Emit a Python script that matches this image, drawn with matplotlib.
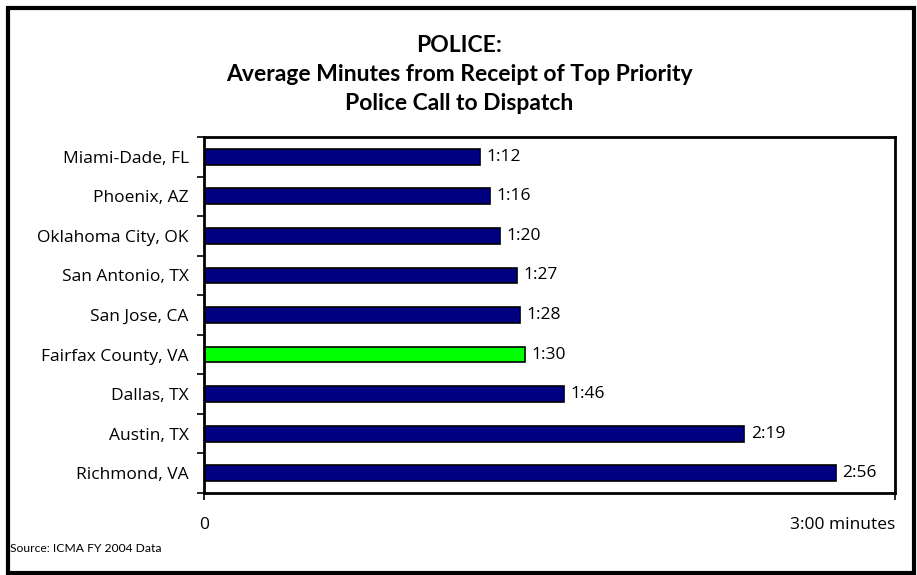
import matplotlib
matplotlib.use("Agg")
import matplotlib.pyplot as plt
from matplotlib.patches import Rectangle
from matplotlib.ticker import FixedLocator

cities = ["Miami-Dade, FL", "Phoenix, AZ", "Oklahoma City, OK", "San Antonio, TX",
          "San Jose, CA", "Fairfax County, VA", "Dallas, TX", "Austin, TX", "Richmond, VA"]
values = [1.12, 1.16, 1.20, 1.27, 1.28, 1.30, 1.46, 2.19, 2.56]
value_labels = ["1:12", "1:16", "1:20", "1:27", "1:28", "1:30", "1:46", "2:19", "2:56"]
colors = ["#000080"] * 5 + ["#00FF00"] + ["#000080"] * 3
x_tick_labels = ["0", "3:00 minutes"]
x_max = 2.8

W, H = 917, 575
fig = plt.figure(figsize=(W / 100, H / 100), dpi=100)
label_font = ["Open Sans", "DejaVu Sans"]
title_font = ["Lato", "DejaVu Sans"]

# figure border
fig.patches.append(Rectangle((8 / W, 2 / H), 906 / W, 565 / H, transform=fig.transFigure,
                             fill=False, edgecolor="black", linewidth=3))

ax = fig.add_axes([204 / W, 1 - 493 / H, (895 - 204) / W, (493 - 137) / H])
n = len(cities)
ypos = list(range(n))
ax.barh(ypos, values, height=0.4, color=colors, edgecolor="black", linewidth=1.2)
ax.set_ylim(n - 0.5, -0.5)
ax.set_xlim(0, x_max)

for y, v, lab in zip(ypos, values, value_labels):
    ax.text(v + 0.025, y, lab, va="center", ha="left", fontsize=12.5, family=label_font)

ax.set_yticks(ypos)
ax.set_yticklabels(cities, fontsize=12.5, family=label_font)
ax.tick_params(axis="y", which="major", length=0, pad=11)
ax.yaxis.set_minor_locator(FixedLocator([i - 0.5 for i in range(n + 1)]))
ax.tick_params(axis="y", which="minor", length=5, width=1.2, direction="out")

ax.set_xticks([0, x_max])
ax.set_xticklabels(x_tick_labels, fontsize=12.5, family=label_font)
ax.tick_params(axis="x", length=5, width=1.2, direction="out", pad=12)
xt = ax.get_xticklabels()
xt[1].set_horizontalalignment("right")

for s in ax.spines.values():
    s.set_linewidth(2)

fig.text(459 / W, 1 - 45 / H, "POLICE:", ha="center", va="center",
         fontsize=16.5, fontweight="bold", family=title_font)
fig.text(459 / W, 1 - 74 / H, "Average Minutes from Receipt of Top Priority", ha="center",
         va="center", fontsize=16.5, fontweight="bold", family=title_font)
fig.text(459 / W, 1 - 103 / H, "Police Call to Dispatch", ha="center", va="center",
         fontsize=16.5, fontweight="bold", family=title_font)

fig.text(10 / W, 1 - 548 / H, "Source: ICMA FY 2004 Data", ha="left", va="center",
         fontsize=8.7, family=title_font)

fig.savefig("out.png", dpi=100)
